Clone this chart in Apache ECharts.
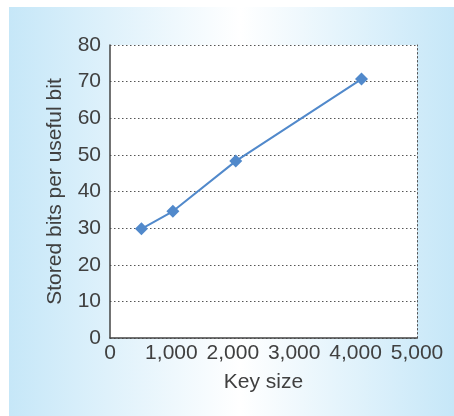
<!DOCTYPE html>
<html>
<head>
<meta charset="utf-8">
<style>
html,body{margin:0;padding:0;background:#fff;}
#c{width:454px;height:416px;}
</style>
<script src="https://cdn.jsdelivr.net/npm/echarts@6/dist/echarts.min.js"></script>
</head>
<body>
<div id="c"></div>
<script>
var keySizes = [512, 1024, 2048, 4096];
var storedBits = [29.8, 34.6, 48.3, 70.7];
var xTicks = [0, 1000, 2000, 3000, 4000, 5000];
var yTicks = [0, 10, 20, 30, 40, 50, 60, 70, 80];
var xName = 'Key size';
var yName = 'Stored bits per useful bit';

var chart = echarts.init(document.getElementById('c'));
var font = 'Liberation Sans, Arial, sans-serif';
var txt = '#404040';
chart.setOption({
  animation: false,
  backgroundColor: '#ffffff',
  graphic: [{
    type: 'rect', z: -10, silent: true,
    shape: {x: 9, y: 7, width: 445, height: 409},
    style: {fill: new echarts.graphic.LinearGradient(0, 0, 1, 0, [
      {offset: 0, color: '#c6e7f8'},
      {offset: 0.52, color: '#ffffff'},
      {offset: 1, color: '#c6e7f8'}
    ])}
  }, {
    type: 'rect', z: -5, silent: true,
    shape: {x: 110, y: 45, width: 307, height: 293},
    style: {fill: '#ffffff'}
  }],
  grid: {left: 110, top: 45, right: 37, bottom: 78, containLabel: false},
  xAxis: {
    type: 'value', min: xTicks[0], max: xTicks[xTicks.length - 1], interval: 1000,
    name: xName, nameLocation: 'middle', nameGap: 34,
    nameTextStyle: {fontFamily: font, fontSize: 21, color: txt},
    axisLine: {show: true, onZero: false, lineStyle: {color: '#444', width: 1.5}},
    axisTick: {show: false},
    splitLine: {show: false},
    axisLabel: {fontFamily: font, fontSize: 21, color: txt, margin: 5,
      formatter: function (v) { return v.toLocaleString('en-US'); }}
  },
  yAxis: [{
    type: 'value', min: yTicks[0], max: yTicks[yTicks.length - 1], interval: 10,
    name: yName, nameLocation: 'middle', nameGap: 44,
    nameTextStyle: {fontFamily: font, fontSize: 21, color: txt},
    axisLine: {show: true, lineStyle: {color: '#444', width: 1.5}},
    axisTick: {show: false},
    splitLine: {show: true, lineStyle: {color: '#555', type: [1.5, 2.5], width: 1}},
    axisLabel: {fontFamily: font, fontSize: 21, color: txt, margin: 9}
  }, {
    type: 'value', position: 'right', min: 0, max: 80,
    axisLine: {show: true, lineStyle: {color: '#555', type: [1.5, 2.5], width: 1}},
    axisTick: {show: false}, axisLabel: {show: false}, splitLine: {show: false}
  }],
  series: [{
    type: 'line',
    data: keySizes.map(function (k, i) { return [k, storedBits[i]]; }),
    symbol: 'diamond', symbolSize: 13,
    lineStyle: {color: '#5189cb', width: 2},
    itemStyle: {color: '#5189cb'}
  }]
});
</script>
</body>
</html>
